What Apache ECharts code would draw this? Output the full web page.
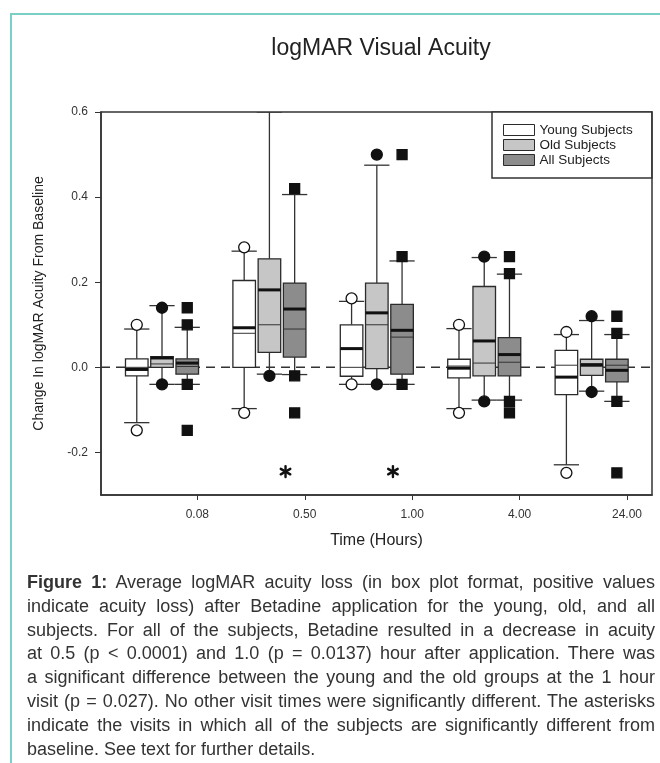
<!DOCTYPE html>
<html>
<head>
<meta charset="utf-8">
<title>logMAR Visual Acuity</title>
<script src="https://cdn.jsdelivr.net/npm/echarts@6/dist/echarts.min.js"></script>
<style>
  body { margin: 0; background: #fff; }
  #frame { position: absolute; left: 10px; top: 13px; width: 660px; height: 760px;
    border-top: 2px solid #7ccfc5; border-left: 2px solid #7ccfc5; }
  #main { position: absolute; left: 0; top: 0; width: 660px; height: 763px; }
  #caption { position: absolute; left: 27px; top: 571px; width: 628px;
    font-family: 'Liberation Sans', Arial, sans-serif; font-size: 18px;
    line-height: 23.8px; color: #333; }
  #caption div { white-space: nowrap; text-align: justify; text-align-last: justify; }
  #caption div.last { text-align-last: left; }
</style>
</head>
<body>
<div id="frame"></div>
<div id="main"></div>
<div id="caption">
  <div><b>Figure 1:</b> Average logMAR acuity loss (in box plot format, positive values</div>
  <div>indicate acuity loss) after Betadine application for the young, old, and all</div>
  <div>subjects. For all of the subjects, Betadine resulted in a decrease in acuity</div>
  <div>at 0.5 (p &lt; 0.0001) and 1.0 (p = 0.0137) hour after application. There was</div>
  <div>a significant difference between the young and the old groups at the 1 hour</div>
  <div>visit (p = 0.027). No other visit times were significantly different. The asterisks</div>
  <div>indicate the visits in which all of the subjects are significantly different from</div>
  <div class="last">baseline. See text for further details.</div>
</div>
<script>
'use strict';

var timeLabels = ['0.08', '0.50', '1.00', '4.00', '24.00'];
var groupNames = ['Young Subjects', 'Old Subjects', 'All Subjects'];
var yTicks = [-0.2, 0, 0.2, 0.4, 0.6];

// each row: [whisker low, q1, median, mean, q3, whisker high]
var youngStats = [
	[-0.13, -0.02, -0.005, 0.0, 0.02, 0.09],
	[-0.097, 0.0, 0.093, 0.08, 0.204, 0.273],
	[-0.04, -0.021, 0.044, 0.0, 0.10, 0.155],
	[-0.097, -0.025, -0.002, 0.003, 0.019, 0.091],
	[-0.229, -0.064, -0.023, 0.005, 0.04, 0.077]
];
var oldStats = [
	[-0.04, 0.0, 0.022, 0.008, 0.025, 0.145],
	[-0.016, 0.035, 0.182, 0.10, 0.255, 0.70],
	[-0.04, -0.003, 0.128, 0.10, 0.198, 0.475],
	[-0.077, -0.02, 0.062, 0.01, 0.19, 0.258],
	[-0.056, -0.019, 0.005, 0.009, 0.019, 0.11]
];
var allStats = [
	[-0.04, -0.016, 0.01, 0.002, 0.02, 0.094],
	[-0.017, 0.024, 0.137, 0.09, 0.198, 0.406],
	[-0.04, -0.016, 0.087, 0.071, 0.148, 0.25],
	[-0.077, -0.02, 0.03, 0.012, 0.07, 0.219],
	[-0.08, -0.034, -0.007, 0.005, 0.019, 0.077]
];

// outlying points: [time index, value]
var youngOutliers = [[0, 0.10], [0, -0.148], [1, 0.282], [1, -0.107], [2, 0.162], [2, -0.04],
	[3, 0.10], [3, -0.107], [4, 0.083], [4, -0.248]];
var oldOutliers = [[0, 0.14], [0, -0.04], [1, -0.02], [2, 0.50], [2, -0.04], [3, 0.26], [3, -0.08],
	[4, 0.12], [4, -0.058]];
var allOutliers = [[0, 0.10], [0, 0.14], [0, -0.04], [0, -0.148], [1, 0.42], [1, -0.02], [1, -0.107],
	[2, 0.26], [2, 0.50], [2, -0.04], [3, 0.22], [3, 0.26], [3, -0.08], [3, -0.107],
	[4, 0.08], [4, 0.12], [4, -0.08], [4, -0.248]];

// visits where all subjects differ from baseline
var significantTimes = [1, 2];
var asteriskLevel = -0.245;
var baselineValue = 0;

var fontName = "'Liberation Sans', Arial, sans-serif";
var xMin = -0.568, xMax = 4.562;
var tickOffset = 0.329;
var offsets = [-0.235, 0, 0.235];
var fills = ['#ffffff', '#c6c6c6', '#8c8c8c'];
var boxWidth = 0.21, capWidth = 0.235;

function boxRenderer(offset, fill) {
	return function (params, api) {
		var x = api.value(0) + offset;
		var cx = api.coord([x, 0])[0];
		var y = function (i) { return api.coord([x, Math.min(api.value(i), 0.6)])[1]; };
		var yLo = y(1), yQ1 = y(2), yMed = y(3), yMean = y(4), yQ3 = y(5), yHi = y(6);
		var hb = api.size([boxWidth, 0])[0] / 2;
		var hc = api.size([capWidth, 0])[0] / 2;
		var ln = function (x1, y1, x2, y2, w, c) {
			return { type: 'line', shape: { x1: x1, y1: y1, x2: x2, y2: y2 },
				style: { stroke: c || '#333', lineWidth: w || 1.3 } };
		};
		return {
			type: 'group',
			children: [
				ln(cx, yHi, cx, yQ3),
				ln(cx, yQ1, cx, yLo),
				ln(cx - hc, yHi, cx + hc, yHi),
				ln(cx - hc, yLo, cx + hc, yLo),
				{ type: 'rect', shape: { x: cx - hb, y: yQ3, width: hb * 2, height: yQ1 - yQ3 },
					style: { fill: fill, stroke: '#2b2b2b', lineWidth: 1.3 } },
				ln(cx - hb, yMean, cx + hb, yMean, 1, '#333'),
				ln(cx - hb, yMed, cx + hb, yMed, 3, '#111')
			]
		};
	};
}

function boxSeries(k, stats) {
	return {
		name: groupNames[k],
		type: 'custom',
		z: 3,
		clip: true,
		itemStyle: { color: fills[k], borderColor: '#2b2b2b', borderWidth: 1 },
		encode: { x: 0, y: [1, 2, 3, 4, 5, 6] },
		data: stats.map(function (s, i) { return [i].concat(s); }),
		renderItem: boxRenderer(offsets[k], fills[k])
	};
}

function outlierSeries(k, pts, symbol, color) {
	return {
		name: groupNames[k] + ' points',
		type: 'scatter',
		z: 4,
		symbol: symbol,
		symbolSize: symbol === 'rect' ? 10 : 11,
		itemStyle: { color: color, borderColor: '#111', borderWidth: 1.3, opacity: 1 },
		data: pts.map(function (p) { return [p[0] + offsets[k], p[1]]; })
	};
}

var myChart = echarts.init(document.getElementById('main'));
var option = {
	animation: false,
	title: {
		text: 'logMAR Visual Acuity',
		left: 376,
		top: 32,
		textAlign: 'center',
		textStyle: { fontFamily: fontName, fontSize: 23, fontWeight: 'normal', color: '#222' }
	},
	legend: {
		orient: 'vertical',
		left: 492,
		top: 112,
		padding: [11, 19, 11, 11],
		itemWidth: 31,
		itemHeight: 11,
		itemGap: 1,
		backgroundColor: '#fff',
		borderColor: '#333',
		borderWidth: 1.5,
		borderRadius: 0,
		textStyle: { fontFamily: fontName, fontSize: 13.5, color: '#222' },
		data: groupNames.map(function (n, k) {
			return { name: n, icon: 'rect',
				itemStyle: { color: fills[k], borderColor: '#2b2b2b', borderWidth: 1 } };
		})
	},
	grid: {
		left: 101,
		top: 112,
		right: 8,
		bottom: 268,
		show: true,
		borderColor: '#333',
		borderWidth: 1.5
	},
	xAxis: {
		type: 'value',
		min: xMin,
		max: xMax,
		name: 'Time (Hours)',
		nameLocation: 'middle',
		nameGap: 38,
		nameTextStyle: { fontFamily: fontName, fontSize: 16, color: '#222' },
		axisLine: { onZero: false, lineStyle: { color: '#333', width: 1.5 } },
		axisTick: { length: 5, lineStyle: { color: '#333' },
			customValues: timeLabels.map(function (t, i) { return i + tickOffset; }) },
		axisLabel: {
			customValues: timeLabels.map(function (t, i) { return i + tickOffset; }),
			formatter: function (v) { return timeLabels[Math.round(v - tickOffset)]; },
			margin: 14,
			fontFamily: fontName,
			fontSize: 12,
			color: '#333'
		},
		splitLine: { show: false }
	},
	yAxis: {
		type: 'value',
		min: -0.3,
		max: 0.6,
		name: 'Change In logMAR Acuity From Baseline',
		nameLocation: 'middle',
		nameGap: 55,
		nameTextStyle: { fontFamily: fontName, fontSize: 14, color: '#222' },
		axisLine: { show: true, onZero: false, lineStyle: { color: '#333', width: 1.5 } },
		axisTick: { show: true, length: 6, lineStyle: { color: '#333' }, customValues: yTicks },
		axisLabel: {
			customValues: yTicks,
			formatter: function (v) { return v.toFixed(1); },
			margin: 13,
			fontFamily: fontName,
			fontSize: 12,
			color: '#333'
		},
		splitLine: { show: false }
	},
	series: [
		{
			name: 'baseline',
			type: 'line',
			z: 1,
			symbol: 'none',
			silent: true,
			lineStyle: { color: '#333', width: 1.5, type: [9, 6] },
			data: [[xMin, baselineValue], [xMax, baselineValue]]
		},
		boxSeries(0, youngStats),
		boxSeries(1, oldStats),
		boxSeries(2, allStats),
		outlierSeries(0, youngOutliers, 'circle', '#fff'),
		outlierSeries(1, oldOutliers, 'circle', '#111'),
		outlierSeries(2, allOutliers, 'rect', '#111'),
		{
			name: 'significant',
			type: 'custom',
			z: 4,
			encode: { x: 0, y: 1 },
			data: significantTimes.map(function (t) { return [t + 0.15, asteriskLevel]; }),
			renderItem: function (params, api) {
				var p = api.coord([api.value(0), api.value(1)]);
				var r = 5.5, arms = [];
				for (var a = 0; a < 3; a++) {
					var ang = Math.PI / 2 + a * Math.PI / 3;
					arms.push({ type: 'line',
						shape: { x1: p[0] - r * Math.cos(ang), y1: p[1] - r * Math.sin(ang),
							x2: p[0] + r * Math.cos(ang), y2: p[1] + r * Math.sin(ang) },
						style: { stroke: '#111', lineWidth: 2.4, lineCap: 'round' } });
				}
				return { type: 'group', children: arms };
			}
		}
	]
};
myChart.setOption(option);
</script>
</body>
</html>
